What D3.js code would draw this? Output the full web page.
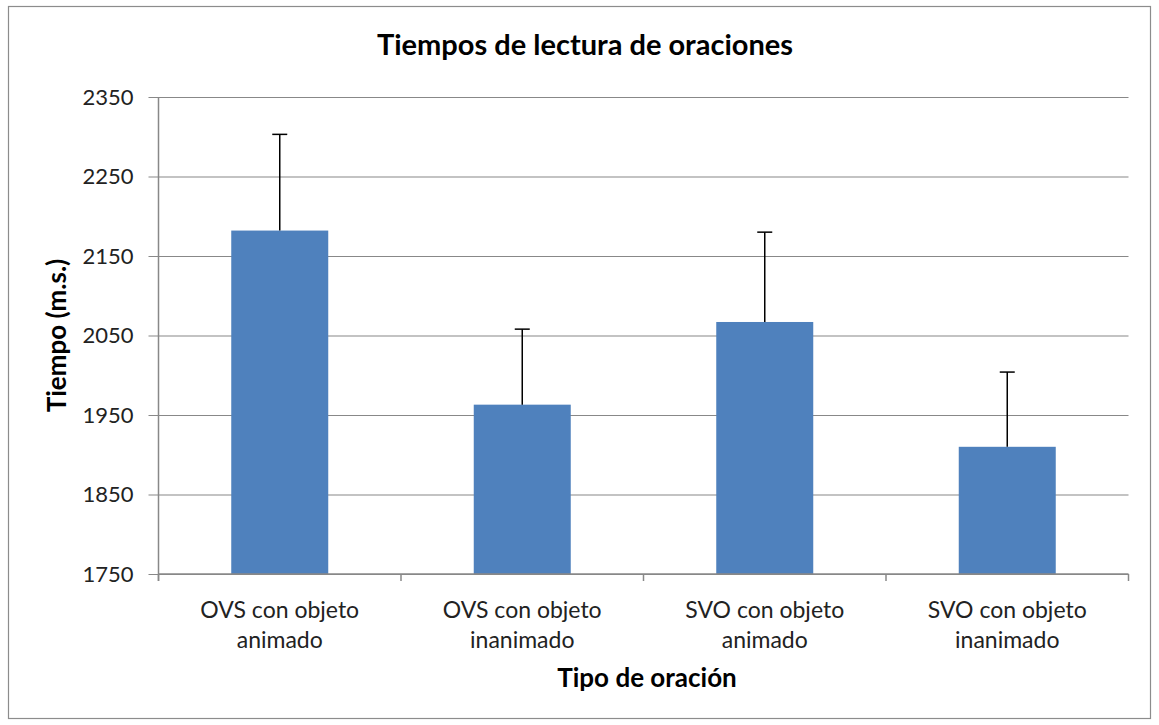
<!DOCTYPE html>
<html><head><meta charset="utf-8">
<script src="https://cdn.jsdelivr.net/npm/d3@7"></script>
<style>body{margin:0;background:#fff;} svg{display:block;}</style>
</head><body>
<svg id="chart" width="1159" height="725"></svg>
<script>
const categories = [["OVS con objeto","animado"],["OVS con objeto","inanimado"],["SVO con objeto","animado"],["SVO con objeto","inanimado"]];
const means = [2182, 1963, 2067, 1910];
const errors = [121, 95, 113, 94];
const yTicks = [1750, 1850, 1950, 2050, 2150, 2250, 2350];
const title = "Tiempos de lectura de oraciones";
const xTitle = "Tipo de oración";
const yTitle = "Tiempo (m.s.)";

const svg = d3.select("#chart");
const font = "Lato, 'Open Sans', sans-serif";
const L = 158.5, R = 1128.5, T = 97, B = 574;

svg.append("rect").attr("x",8.5).attr("y",6.5).attr("width",1142).attr("height",712)
  .attr("fill","#fff").attr("stroke","#8c8c8c").attr("stroke-width",1.2);

const x = d3.scaleBand().domain(d3.range(categories.length)).range([L,R]).paddingInner(0.6).paddingOuter(0.3);
const y = d3.scaleLinear().domain([1750,2350]).range([B,T]);

// gridlines + y axis
const yAxis = d3.axisLeft(y).tickValues(yTicks).tickSize(-(R-L)).tickSizeOuter(0).tickPadding(15).tickFormat(d3.format("d"));
const gy = svg.append("g").attr("transform",`translate(${L},0)`).call(yAxis);
gy.select(".domain").remove();
gy.selectAll(".tick line").attr("stroke","#888").attr("stroke-width",1.2).attr("x2",R-L).attr("x1",-10);
gy.selectAll(".tick text").attr("font-family",font).attr("font-size",22).attr("fill","#222").attr("x",-25);

// bars
svg.append("g").selectAll("rect").data(means).join("rect")
  .attr("x",(d,i)=>x(i)).attr("width",x.bandwidth())
  .attr("y",d=>y(d)).attr("height",d=>B-y(d)).attr("fill","#4F81BD");

// y axis line
svg.append("line").attr("x1",L).attr("x2",L).attr("y1",T).attr("y2",B+7).attr("stroke","#888").attr("stroke-width",1.5);
// x axis line
svg.append("line").attr("x1",L).attr("x2",R).attr("y1",B).attr("y2",B).attr("stroke","#888").attr("stroke-width",1.5);
// x ticks at band boundaries
const bounds = d3.range(categories.length+1).map(i => L + i*x.step());
svg.append("g").selectAll("line").data(bounds).join("line")
  .attr("x1",d=>d).attr("x2",d=>d).attr("y1",B).attr("y2",B+7).attr("stroke","#888").attr("stroke-width",1.5);

// error bars
const eg = svg.append("g");
means.forEach((m,i)=>{
  const cx = x(i)+x.bandwidth()/2;
  eg.append("line").attr("x1",cx).attr("x2",cx).attr("y1",y(m)).attr("y2",y(m+errors[i])).attr("stroke","#000").attr("stroke-width",1.5);
  eg.append("line").attr("x1",cx-7.5).attr("x2",cx+7.5).attr("y1",y(m+errors[i])).attr("y2",y(m+errors[i])).attr("stroke","#000").attr("stroke-width",1.5);
});

// category labels
const cl = svg.append("g");
categories.forEach((c,i)=>{
  const cx = x(i)+x.bandwidth()/2;
  const t = cl.append("text").attr("x",cx).attr("y",618).attr("text-anchor","middle")
    .attr("font-family",font).attr("font-size",23).attr("fill","#222");
  c.forEach((line,j)=>t.append("tspan").attr("x",cx).attr("dy",j===0?0:30).text(line));
});

// titles
svg.append("text").attr("x",585).attr("y",55).attr("text-anchor","middle")
  .attr("font-family",font).attr("font-weight","bold").attr("font-size",29).attr("fill","#000").text(title);
svg.append("text").attr("x",647).attr("y",687).attr("text-anchor","middle")
  .attr("font-family",font).attr("font-weight","bold").attr("font-size",26).attr("fill","#000").text(xTitle);
svg.append("text").attr("transform",`translate(66,${(T+B)/2}) rotate(-90)`).attr("text-anchor","middle")
  .attr("font-family",font).attr("font-weight","bold").attr("font-size",26).attr("fill","#000").text(yTitle);
</script>
</body></html>
